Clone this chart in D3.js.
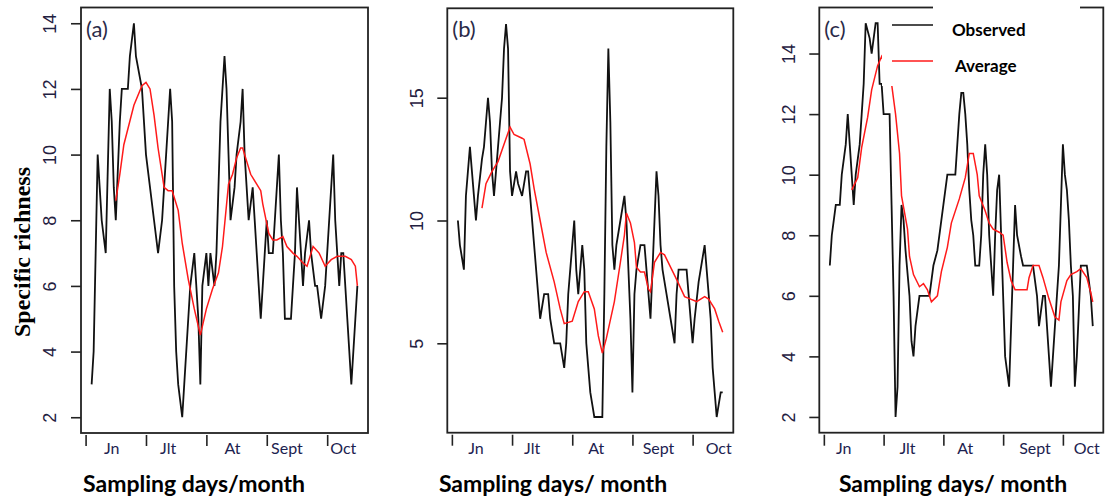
<!DOCTYPE html>
<html>
<head>
<meta charset="utf-8">
<script src="https://cdnjs.cloudflare.com/ajax/libs/d3/7.8.5/d3.min.js"></script>
<style>
  body { margin: 0; background: #fff; }
  svg { display: block; }
</style>
</head>
<body>
<svg id="chart"></svg>
<script>
const width = 1105, height = 499;

// Observed richness as [day, value] vertices
const observedA = [[0,3],[1,4],[2,7],[3,10],[4,9],[5,8],[7,7],[9,12],[10,11],[11,9],[12,8],[14,11],[15,12],[18,12],[19,13],[21,14],[22,13],[25,12],[27,10],[29,9],[31,8],[33,7],[35,8],[36,9],[38,11],[39,12],[40,11],[41,6],[42,4],[43,3],[45,2],[46,3],[48,5],[49,6],[51,7],[53,5],[54,3],[55,6],[57,7],[58,6],[59,7],[61,6],[62,7],[63,9],[64,11],[66,13],[67,12],[68,10],[69,8],[71,9],[72,10],[74,11],[75,12],[76,10],[77,9],[78,8],[80,9],[81,8],[82,7],[83,6],[84,5],[85,6],[87,8],[88,7],[90,7],[91,8],[92,9],[93,10],[94,8],[95,7],[96,5],[99,5],[100,6],[101,7],[102,9],[103,8],[104,7],[105,6],[106,7],[108,8],[109,7],[111,6],[112,6],[114,5],[116,6],[117,7],[118,8],[119,9],[120,10],[121,8],[122,7],[123,6],[124,7],[125,7],[127,5],[128,4],[129,3],[131,5],[132,6]];
const averageA = [[12,8.6],[14,9.4],[16,10.3],[21,11.5],[25,12.1],[27,12.2],[29,12],[31,11.2],[33,10.2],[36,9],[38,8.9],[40,8.9],[43,8.3],[45,7.3],[48,6.2],[51,5.3],[54,4.5],[57,5.3],[60,5.9],[63,6.4],[65,7.2],[68,9.1],[70,9.4],[72,9.9],[74,10.2],[75,10.2],[77,9.8],[79,9.4],[82,9.1],[84,8.9],[85,8.5],[87,7.9],[88,7.6],[90,7.4],[92,7.4],[95,7.5],[97,7.2],[100,7],[102,6.9],[105,6.7],[107,6.6],[110,7.2],[113,7],[116,6.6],[119,6.8],[122,6.9],[126,6.9],[129,6.8],[131,6.6],[132,6]];

const observedB = [[0,10],[1,9],[3,8],[4,11],[5,12],[6,13],[7,12],[8,11],[9,10],[10,11],[12,12.5],[13,13],[14,14],[15,15],[16,14],[17,12],[18,11],[19,12],[21,14],[22,15],[23,17],[24,18],[25,17],[26,12],[27,11],[29,12],[30,11.5],[32,11],[34,12],[35,12],[36,11],[37,10],[38,9],[39,8],[40,7],[41,6],[43,7],[45,7],[46,6],[48,5],[51,5],[53,4],[54,5],[55,7],[56,8],[57,9],[58,10],[59,8],[60,7],[62,9],[63,8],[64,5],[65,4],[66,3],[67,2.5],[68,2],[72,2],[73,7],[74,13],[75,17],[76,14],[77,9],[78,8],[79,9],[81,10],[83,11],[84,10],[85,8],[86,6],[87,3],[88,7],[89,8],[91,9],[93,9],[94,8],[95,7],[96,6],[97,8],[98,10],[99,12],[100,11],[101,9],[102,8],[104,7],[106,6],[108,5],[109,7],[110,8],[114,8],[115,7],[117,5],[118,6],[120,7.5],[122,8.5],[123,9],[124,8],[126,6],[127,4],[128,3],[129,2],[130,2.5],[131,3],[132,3]];
const averageB = [[12,10.5],[14,11.5],[17,12],[20,12.4],[23,13.1],[26,13.8],[28,13.5],[32,13.35],[33,13.3],[36,12.3],[38,11.3],[41,10],[44,8.7],[48,7.5],[51,6.4],[53,5.8],[57,5.9],[60,6.7],[63,7.1],[65,7.1],[68,6.4],[70,5.3],[72,4.6],[74,5.2],[78,6.7],[81,8.3],[83,9.4],[84,10.3],[86,9.9],[88,9.1],[89,8.1],[91,7.9],[93,7.9],[95,7.2],[96,7.1],[98,8.3],[101,8.7],[103,8.6],[106,8.1],[109,7.6],[113,6.9],[116,6.8],[119,6.7],[123,6.9],[125,6.8],[128,6.4],[130,5.9],[132,5.45]];

const observedC = [[0,7],[1,8],[2,8.5],[3,9],[5,9],[6,10],[8,11],[9,12],[10,11],[11,10],[12,9],[13,10],[15,11],[16,12],[17,13],[18,15],[20,14.5],[21,14],[23,15],[24,15],[25,13],[26,13],[27,12],[30,12],[31,9],[32,6],[33,2],[34,3],[35,7],[36,9],[37,8.5],[38,7.5],[40,6],[41,4.5],[42,4],[43,5],[44,5.5],[45,6],[50,6],[52,7],[54,7.5],[55,8],[57,9],[59,10],[63,10],[64,11],[65,12],[66,12.7],[67,12.7],[68,12],[69,11],[70,9.5],[71,8.5],[72,8],[73,7],[75,7],[76,8],[77,10],[78,11],[79,10],[80,8],[81,7],[82,6],[83,8],[84,9.5],[85,10],[86,8],[87,6],[88,4],[89,3.5],[90,3],[91,5],[92,7],[93,9],[94,8],[96,7.3],[97,7],[102,7],[104,6],[105,5],[107,6],[108,6],[110,4],[111,3],[112,4],[114,6],[115,7],[116,9],[117,11],[118,10],[119,9.5],[120,8.5],[121,7],[122,6],[123,3],[124,4],[125,5.5],[126,7],[129,7],[130,6.5],[131,6],[132,5]];
const averageC = [[11,9.5],[14,9.9],[16,10.9],[19,11.9],[21,12.8],[24,13.6],[26,13.9],[31,13],[33,12],[35,10.7],[36,9.3],[39,8.2],[40,7.3],[42,6.7],[45,6.3],[47,6.4],[49,6.2],[51,5.8],[54,6],[56,6.8],[59,7.6],[61,8.4],[65,9.2],[68,9.9],[70,10.7],[72,10.7],[74,10],[75,9.3],[78,8.8],[80,8.4],[82,8.2],[85,8.1],[87,8],[89,7.1],[91,6.5],[93,6.2],[96,6.2],[99,6.2],[100,6.6],[102,7],[105,7],[107,6.6],[110,5.9],[113,5.3],[115,5.2],[116,5.8],[119,6.5],[121,6.7],[124,6.8],[126,6.9],[129,6.6],[131,6.1],[132,5.8]];

// Axis ticks and labels
const dayRange = [0, 132];
const monthTicks = [-3, 27, 57, 87, 117];
const monthNames = ["Jn", "Jlt", "At", "Sept", "Oct"];
const monthLabelDaysA = [10, 38, 70, 97, 125];
const monthLabelDaysB = [9, 37, 69, 100, 130];
const monthLabelDaysC = [7, 39, 68, 103, 129];
const yTicksA = [2, 4, 6, 8, 10, 12, 14];
const yTicksB = [5, 10, 15];
const yTicksC = [2, 4, 6, 8, 10, 12, 14];
const legendLabels = ["Observed", "Average"];

const panels = [
    { tag: "(a)", obs: observedA, avg: averageA, yTicks: yTicksA, monthDays: monthLabelDaysA,
      title: "Sampling days/month", titleX: 194, left: 81, right: 368, top: 7.5, bottom: 433 },
    { tag: "(b)", obs: observedB, avg: averageB, yTicks: yTicksB, monthDays: monthLabelDaysB,
      title: "Sampling days/ month", titleX: 553, left: 447.3, right: 733.3, top: 8.3, bottom: 432.7 },
    { tag: "(c)", obs: observedC, avg: averageC, yTicks: yTicksC, monthDays: monthLabelDaysC,
      title: "Sampling days/ month", titleX: 953, left: 819.3, right: 1103.3, top: 7.5, bottom: 432.7 }
];

// R style axis range: extend 4% each side
const expand = ([a, b]) => [a - (b - a) * 0.04, b + (b - a) * 0.04];

const svg = d3.select("#chart")
    .attr("width", width)
    .attr("height", height)
    .attr("viewBox", [0, 0, width, height]);

const tickColor = "#1f2040";

panels.forEach((p, pi) => {
    const x = d3.scaleLinear().domain(expand(dayRange)).range([p.left, p.right]);
    const y = d3.scaleLinear().domain(expand(d3.extent(p.obs, d => d[1]))).range([p.bottom, p.top]);

    const g = svg.append("g").attr("class", "panel panel-" + pi);

    const line = d3.line()
        .x(d => x(d[0]))
        .y(d => y(d[1]));

    // Observed series
    g.append("path")
        .attr("d", line(p.obs))
        .attr("fill", "none")
        .attr("stroke", "#111")
        .attr("stroke-width", 1.8);

    // Moving average
    g.append("path")
        .attr("d", line(p.avg))
        .attr("fill", "none")
        .attr("stroke", "#ff1a1a")
        .attr("stroke-width", 1.5);

    // Plot box
    g.append("rect")
        .attr("x", p.left)
        .attr("y", p.top)
        .attr("width", p.right - p.left)
        .attr("height", p.bottom - p.top)
        .attr("fill", "none")
        .attr("stroke", "#222")
        .attr("stroke-width", 1.8);

    // Y axis
    const yAxis = g.append("g")
        .attr("transform", `translate(${p.left},0)`)
        .call(d3.axisLeft(y).tickValues(p.yTicks).tickSize(10).tickFormat(d3.format("d")));
    yAxis.select(".domain").remove();
    yAxis.selectAll(".tick line").attr("stroke", "#222").attr("stroke-width", 1.6);
    yAxis.selectAll(".tick text")
        .attr("x", null)
        .attr("dy", "0.35em")
        .attr("transform", "translate(-31,0) rotate(-90)")
        .attr("text-anchor", "middle")
        .attr("fill", tickColor)
        .style("font-family", "'Liberation Sans', Arial, sans-serif")
        .style("font-size", "18px");

    // X axis ticks (month boundaries)
    const xAxis = g.append("g")
        .attr("transform", `translate(0,${p.bottom + 2})`)
        .call(d3.axisBottom(x).tickValues(monthTicks).tickSize(11).tickFormat(""));
    xAxis.select(".domain").remove();
    xAxis.selectAll(".tick line").attr("stroke", "#222").attr("stroke-width", 1.6);

    // Month names
    g.selectAll(".month")
        .data(monthNames)
        .join("text")
        .attr("class", "month")
        .attr("x", (d, i) => x(p.monthDays[i]))
        .attr("y", p.bottom + 21)
        .attr("text-anchor", "middle")
        .attr("fill", "#1c2250")
        .style("font-family", "Lato, 'Open Sans', sans-serif")
        .style("font-size", "16px")
        .text(d => d);

    // Panel tag
    g.append("text")
        .attr("x", p.left + 5)
        .attr("y", p.top + 29)
        .attr("fill", "#2a2a48")
        .style("font-family", "Lato, 'Open Sans', sans-serif")
        .style("font-size", "22px")
        .text(p.tag);

    // X title
    g.append("text")
        .attr("x", p.titleX)
        .attr("y", 492)
        .attr("text-anchor", "middle")
        .attr("fill", "#000")
        .style("font-family", "Lato, 'Open Sans', sans-serif")
        .style("font-weight", "bold")
        .style("font-size", "23px")
        .text(p.title);

    // Legend in the last panel
    if (pi === 2) {
        const lg = svg.append("g").attr("class", "legend");
        lg.append("rect").attr("x", 882).attr("y", p.top + 1.5).attr("width", 198).attr("height", 77).attr("fill", "#fff");
        lg.append("rect").attr("x", 933).attr("y", 0).attr("width", 147).attr("height", 12).attr("fill", "#fff");
        const colors = ["#111", "#ff1a1a"];
        const rowY = [25, 61];
        legendLabels.forEach((lab, i) => {
            lg.append("line")
                .attr("x1", 892).attr("x2", 933)
                .attr("y1", rowY[i]).attr("y2", rowY[i])
                .attr("stroke", colors[i])
                .attr("stroke-width", 1.6);
            lg.append("text")
                .attr("x", 952 + i * 3)
                .attr("y", rowY[i] + 11)
                .attr("fill", "#000")
                .style("font-family", "Lato, 'Open Sans', sans-serif")
                .style("font-weight", "bold")
                .style("font-size", "17px")
                .text(lab);
        });
    }
});

// Shared y title
svg.append("text")
    .attr("transform", "translate(30,252) rotate(-90)")
    .attr("text-anchor", "middle")
    .attr("fill", "#000")
    .style("font-family", "'Liberation Serif', 'Times New Roman', serif")
    .style("font-weight", "bold")
    .style("font-size", "24px")
    .text("Specific richness");
</script>
</body>
</html>
